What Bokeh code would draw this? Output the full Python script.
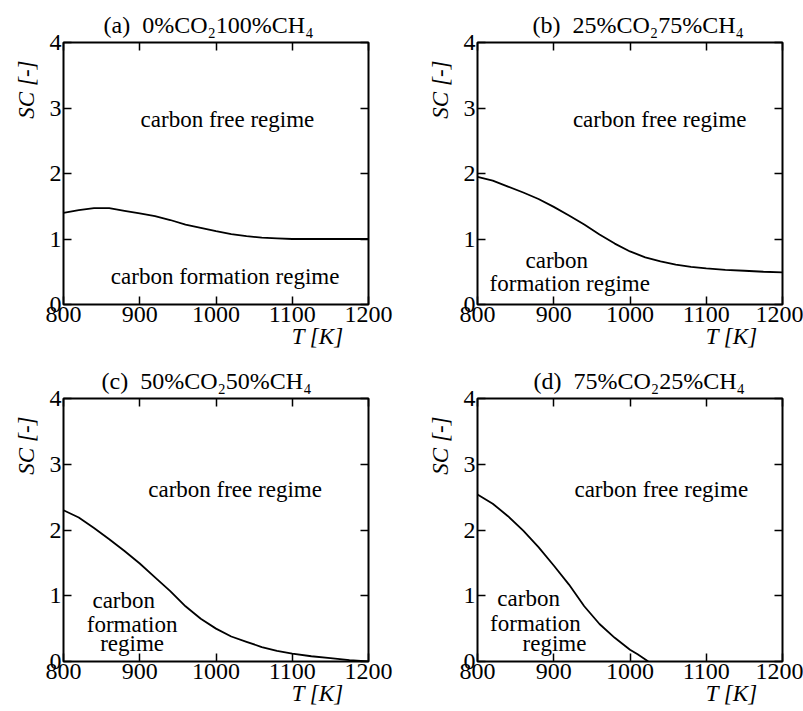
from bokeh.plotting import figure
from bokeh.layouts import gridplot
from bokeh.models import Range1d, LinearAxis, Label, FixedTicker, Title
from bokeh.embed import file_html
from bokeh.resources import INLINE

# ---- data ----
T_a = [800, 820, 840, 860, 880, 900, 920, 940, 960, 980, 1000, 1020, 1040, 1060, 1080, 1100, 1150, 1200]
SC_a = [1.40, 1.44, 1.47, 1.47, 1.43, 1.39, 1.35, 1.29, 1.22, 1.17, 1.12, 1.075, 1.045, 1.02, 1.01, 1.00, 1.00, 1.00]

T_b = [800, 820, 840, 860, 880, 900, 920, 940, 960, 980, 1000, 1020, 1040, 1060, 1080, 1100, 1125, 1150, 1175, 1200]
SC_b = [1.95, 1.89, 1.80, 1.71, 1.61, 1.49, 1.36, 1.22, 1.07, 0.93, 0.81, 0.72, 0.66, 0.61, 0.575, 0.55, 0.53, 0.515, 0.50, 0.49]

T_c = [800, 820, 840, 860, 880, 900, 920, 940, 960, 980, 1000, 1020, 1040, 1060, 1080, 1100, 1125, 1150, 1175, 1200]
SC_c = [2.30, 2.19, 2.03, 1.86, 1.68, 1.49, 1.28, 1.07, 0.84, 0.65, 0.50, 0.38, 0.30, 0.22, 0.16, 0.12, 0.08, 0.05, 0.02, 0.0]

T_d = [800, 820, 840, 860, 880, 900, 920, 940, 960, 980, 1000, 1010, 1024]
SC_d = [2.54, 2.40, 2.21, 1.99, 1.74, 1.46, 1.17, 0.84, 0.57, 0.36, 0.18, 0.11, 0.0]

titles = ["(a)\u20020%CO\u2082100%CH\u2084", "(b)\u200225%CO\u208275%CH\u2084",
          "(c)\u200250%CO\u208250%CH\u2084", "(d)\u200275%CO\u208225%CH\u2084"]
x_ticks = [800, 900, 1000, 1100, 1200]
y_ticks = [0, 1, 2, 3, 4]
x_label = "T [K]"
y_label = "SC [-]"
free_text = "carbon free regime"

FONT = "Liberation Serif"


def lab(p, x, y, text, size="23px", align="center"):
    p.add_layout(Label(x=x, y=y, text=text, text_font=FONT, text_font_size=size,
                       text_align=align, text_baseline="alphabetic", text_color="black"))


def make_panel(T, SC, title, title_off, width, height, left, right, top, bottom):
    p = figure(width=width, height=height, output_backend="svg", toolbar_location=None,
               x_range=Range1d(800, 1200), y_range=Range1d(0, 4),
               min_border_left=left, min_border_right=right,
               min_border_top=top, min_border_bottom=bottom,
               x_axis_location=None, y_axis_location=None)
    p.xgrid.grid_line_color = None
    p.ygrid.grid_line_color = None
    p.outline_line_color = "black"
    p.outline_line_width = 2
    p.background_fill_color = "white"
    p.border_fill_color = "white"

    for loc, dim in (("below", "x"), ("above", "x"), ("left", "y"), ("right", "y")):
        ax = LinearAxis(ticker=FixedTicker(ticks=x_ticks if dim == "x" else y_ticks))
        ax.axis_line_color = None
        ax.major_tick_in = 8
        ax.major_tick_out = 0
        ax.major_tick_line_width = 1.5
        ax.minor_tick_line_color = None
        ax.major_label_text_font = FONT
        if loc in ("below", "left"):
            ax.major_label_text_font_size = "24px"
            ax.major_label_text_color = "black"
            ax.major_label_standoff = 2
        else:
            ax.major_label_text_font_size = "1px"
            ax.major_label_text_color = None
            ax.major_label_standoff = 0
        p.add_layout(ax, loc)

    # y-axis label (outer left, near the top)
    p.add_layout(Title(text=y_label, text_font=FONT, text_font_size="23px",
                       text_font_style="italic", text_color="black",
                       align="right", offset=18, standoff=15), "left")
    # x-axis label (outer bottom, near the right)
    p.add_layout(Title(text=x_label, text_font=FONT, text_font_size="23px",
                       text_font_style="italic", text_color="black",
                       align="right", offset=25, standoff=-5), "below")
    # panel title
    p.add_layout(Title(text=title, text_font=FONT, text_font_size="24px",
                       text_font_style="normal", text_color="black",
                       align="left", offset=title_off, standoff=10), "above")

    p.line(T, SC, line_color="black", line_width=1.8)
    return p


pa = make_panel(T_a, SC_a, titles[0], 40, 400, 355, 63, 32, 42, 51)
pb = make_panel(T_b, SC_b, titles[1], 55, 403, 355, 77, 21, 42, 51)
pc = make_panel(T_c, SC_c, titles[2], 38, 400, 356, 63, 32, 43, 50)
pd = make_panel(T_d, SC_d, titles[3], 56, 403, 356, 77, 21, 43, 50)

# region annotations
lab(pa, 1015, 2.82, free_text)
lab(pa, 1012, 0.43, "carbon formation regime")

lab(pb, 1039, 2.82, free_text)
lab(pb, 904, 0.67, "carbon")
lab(pb, 921, 0.32, "formation regime")

lab(pc, 1025, 2.62, free_text)
lab(pc, 879, 0.93, "carbon")
lab(pc, 890, 0.57, "formation")
lab(pc, 890, 0.27, "regime")

lab(pd, 1041, 2.62, free_text)
lab(pd, 867, 0.96, "carbon")
lab(pd, 876, 0.58, "formation")
lab(pd, 901, 0.28, "regime")

grid = gridplot([[pa, pb], [pc, pd]], toolbar_location=None)

open("out.html", "w").write(file_html(grid, INLINE))
